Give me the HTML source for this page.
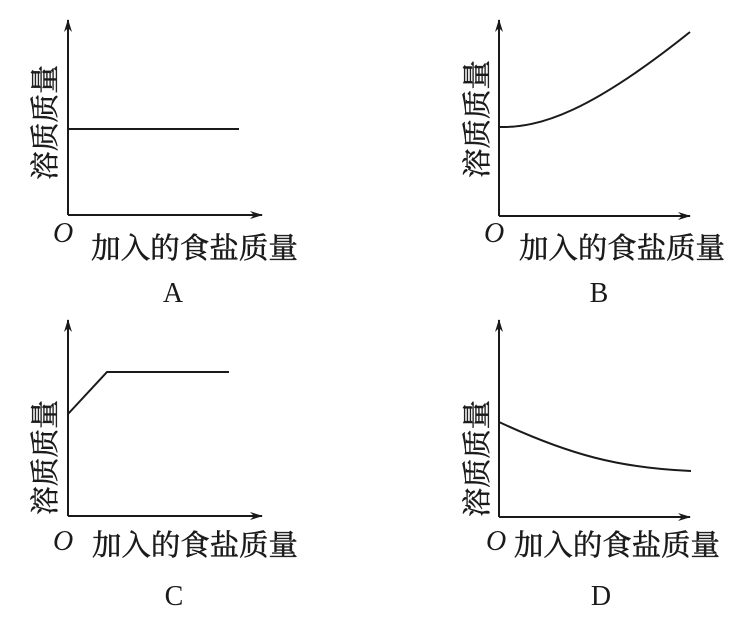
<!DOCTYPE html>
<html><head><meta charset="utf-8"><style>
html,body{margin:0;padding:0;background:#fff;}
svg{display:block;}
.c{font-family:"Liberation Serif","Noto Serif CJK SC","Noto Sans CJK SC",serif;font-size:29px;fill:#1a1a1a;stroke:#1a1a1a;stroke-width:0.5;}
.o{font-family:"Liberation Serif",serif;font-style:italic;font-size:28px;fill:#1a1a1a;}
.l{font-family:"Liberation Serif",serif;font-size:28px;fill:#1a1a1a;}
</style></head><body>
<svg width="748" height="621" viewBox="0 0 748 621" xmlns="http://www.w3.org/2000/svg">
<defs><marker id="ar" markerWidth="14" markerHeight="10" refX="12" refY="5" orient="auto" markerUnits="userSpaceOnUse"><path d="M0,1 L13,5 L0,9 L4,5 Z" fill="#1a1a1a"/></marker></defs>
<g stroke="#1a1a1a" stroke-width="2" fill="none">
<path d="M68,215 V20" marker-end="url(#ar)"/><path d="M68,215 H262" marker-end="url(#ar)"/>
<path d="M68,129 H239"/>
<path d="M499,216 V20" marker-end="url(#ar)"/><path d="M499,216 H690" marker-end="url(#ar)"/>
<path d="M499,127 C540,128 590,112 690,32"/>
<path d="M68,516 V320" marker-end="url(#ar)"/><path d="M68,516 H262" marker-end="url(#ar)"/>
<path d="M68,414 L107,372 H229"/>
<path d="M499,517 V320" marker-end="url(#ar)"/><path d="M499,517 H690" marker-end="url(#ar)"/>
<path d="M499,422 C570,455 620,468 691,471"/>
</g>
<g class="c">
<text transform="translate(55,180) rotate(-90)" textLength="115" lengthAdjust="spacingAndGlyphs">溶质质量</text>
<text transform="translate(487,178) rotate(-90)" textLength="118" lengthAdjust="spacingAndGlyphs">溶质质量</text>
<text transform="translate(55,515) rotate(-90)" textLength="115" lengthAdjust="spacingAndGlyphs">溶质质量</text>
<text transform="translate(487,517) rotate(-90)" textLength="117" lengthAdjust="spacingAndGlyphs">溶质质量</text>
<text x="91" y="258" textLength="207" lengthAdjust="spacingAndGlyphs">加入的食盐质量</text>
<text x="519" y="258" textLength="206" lengthAdjust="spacingAndGlyphs">加入的食盐质量</text>
<text x="92" y="555" textLength="206" lengthAdjust="spacingAndGlyphs">加入的食盐质量</text>
<text x="514" y="555" textLength="206" lengthAdjust="spacingAndGlyphs">加入的食盐质量</text>
</g>
<g class="o">
<text x="53" y="242">O</text><text x="484" y="242">O</text>
<text x="53" y="550">O</text><text x="486" y="550">O</text>
</g>
<g class="l" text-anchor="middle">
<text x="173" y="302">A</text><text x="599" y="302">B</text>
<text x="174" y="605">C</text><text x="601" y="605">D</text>
</g>
</svg>
</body></html>
